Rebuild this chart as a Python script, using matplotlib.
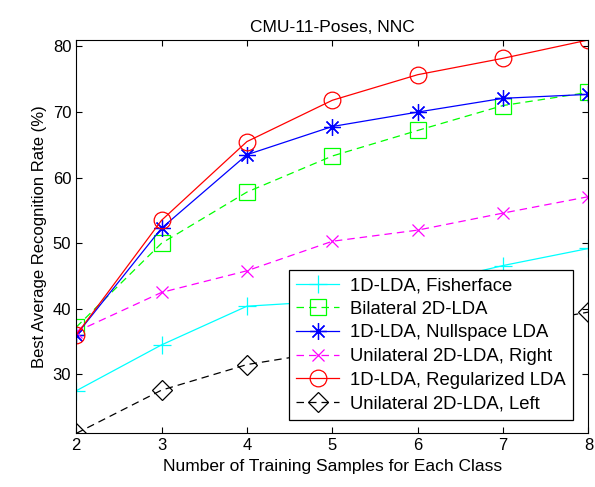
import numpy as np
import matplotlib
matplotlib.use("Agg")
import matplotlib.pyplot as plt

# samples per class
n_train = [2, 3, 4, 5, 6, 7, 8]

fisherface = [27.5, 34.5, 40.4, 41.2, 43.5, 46.6, 49.2]
bilateral = [37.2, 50.0, 57.8, 63.3, 67.2, 71.0, 73.0]
nullspace = [36.0, 52.3, 63.5, 67.8, 70.0, 72.1, 72.7]
uni_right = [36.5, 42.5, 45.8, 50.3, 52.0, 54.6, 57.1]
regularized = [36.0, 53.5, 65.5, 71.8, 75.7, 78.2, 81.0]
uni_left = [21.0, 27.6, 31.5, 33.6, 35.5, 37.2, 39.5]

labels = ['1D-LDA, Fisherface', 'Bilateral 2D-LDA', '1D-LDA, Nullspace LDA',
          'Unilateral 2D-LDA, Right', '1D-LDA, Regularized LDA', 'Unilateral 2D-LDA, Left']

plt.rcParams['font.family'] = ['Liberation Sans', 'DejaVu Sans']
plt.rcParams['xtick.direction'] = 'in'
plt.rcParams['ytick.direction'] = 'in'

fig = plt.figure(figsize=(5.95, 4.87), dpi=100)
ax = fig.add_axes([0.128, 0.110, 0.861, 0.808])

lw = 0.9
dash = (0, (6, 4))
asterisk = (8, 2, 0)
ax.plot(n_train, fisherface, '-', color='#00ffff', marker='+', ms=13, mew=0.9, lw=lw, label=labels[0])
ax.plot(n_train, bilateral, ls=dash, color='#00ff00', marker='s', ms=11, mfc='none', mew=0.9, lw=lw, label=labels[1])
ax.plot(n_train, nullspace, '-', color='#0000ff', marker=asterisk, ms=12, mew=0.9, lw=lw, label=labels[2])
ax.plot(n_train, uni_right, ls=dash, color='#ff00ff', marker='x', ms=8, mew=0.9, lw=lw, label=labels[3])
ax.plot(n_train, regularized, '-', color='#ff0000', marker='o', ms=12, mfc='none', mew=0.9, lw=lw, label=labels[4])
ax.plot(n_train, uni_left, ls=dash, color='black', marker='D', ms=10, mfc='none', mew=0.9, lw=lw, label=labels[5])

ax.set_xlim(2, 8)
ax.set_ylim(21, 81)
ax.set_xticks(n_train)
ax.set_yticks([30, 40, 50, 60, 70, 80])
ax.tick_params(top=True, right=True, labelsize=12, length=4)
ax.set_xlabel('Number of Training Samples for Each Class', fontsize=12.5)
ax.set_ylabel('Best Average Recognition Rate (%)', fontsize=12)
ax.set_title('CMU-11-Poses, NNC', fontsize=12.5)

leg = ax.legend(loc='lower right', bbox_to_anchor=(0.97, 0.035), borderaxespad=0,
                fontsize=13.3, fancybox=False, edgecolor='black', framealpha=1,
                handlelength=2.3, handletextpad=0.6, labelspacing=0.36)
leg.get_frame().set_linewidth(0.9)

fig.savefig('out.png', dpi=100)
